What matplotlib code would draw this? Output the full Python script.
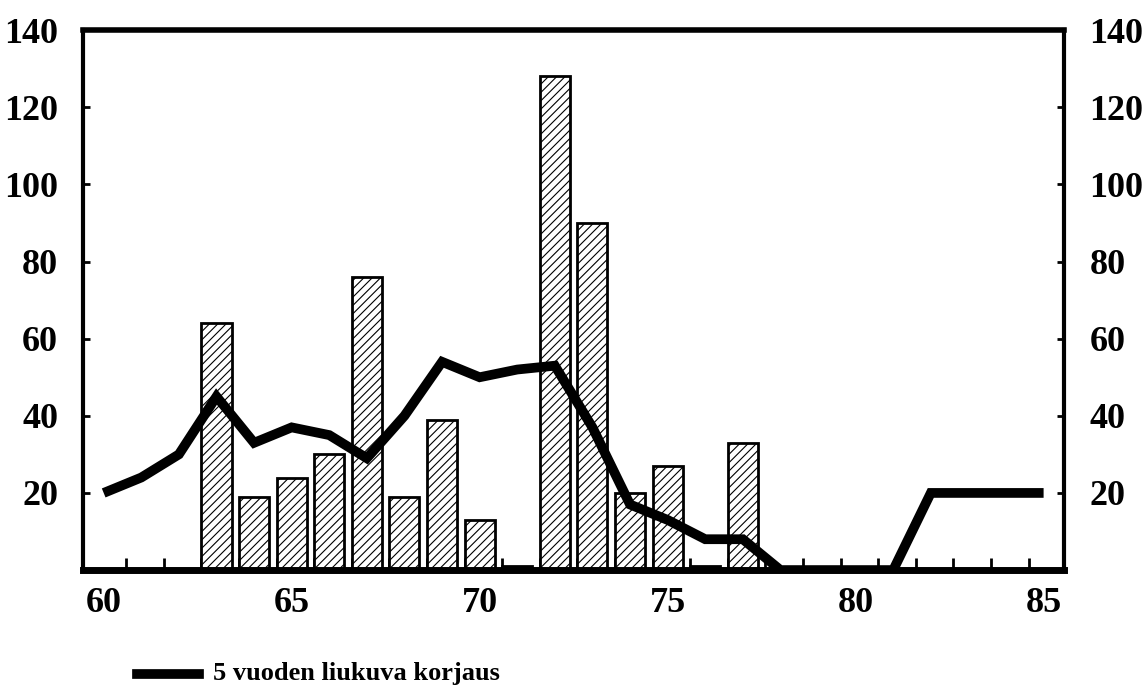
import numpy as np
import matplotlib
matplotlib.use('Agg')
import matplotlib.pyplot as plt
from matplotlib.lines import Line2D

# bars: years and values
bar_years = [63, 64, 65, 66, 67, 68, 69, 70, 71, 72, 73, 74, 75, 76, 77]
bar_values = [64, 19, 24, 30, 76, 19, 39, 13, 1, 128, 90, 20, 27, 1, 33]

# 5 year moving correction line
line_years = list(range(60, 86))
line_values = [20, 24, 30, 45, 33, 37, 35, 29, 40, 54, 50, 52, 53, 37, 17, 13, 8, 8,
               0, 0, 0, 0, 20, 20, 20, 20]

x_labels = [60, 65, 70, 75, 80, 85]
y_labels = [20, 40, 60, 80, 100, 120, 140]
legend_text = '5 vuoden liukuva korjaus'

plt.rcParams['font.family'] = ['Liberation Serif', 'DejaVu Serif']
plt.rcParams['font.weight'] = 'bold'
plt.rcParams['hatch.linewidth'] = 0.8

fig = plt.figure(figsize=(11.45, 6.86), dpi=100)
ax = fig.add_axes([0.0725, 0.169, 0.857, 0.787])

ax.bar(bar_years, bar_values, width=0.8, color='white', edgecolor='black',
       linewidth=2, hatch='////', zorder=2)
ax.plot(line_years, line_values, color='black', linewidth=7,
        solid_joinstyle='miter', solid_capstyle='butt', zorder=3)

ax.set_xlim(59.45, 85.55)
ax.set_ylim(0, 140)

ax.set_xticks(x_labels)
ax.set_xticklabels([str(v) for v in x_labels], fontsize=26, fontweight='bold')
ax.tick_params(axis='x', which='major', length=0, pad=12)
ax.set_xticks([y + 0.6 for y in range(60, 85)], minor=True)
ax.tick_params(axis='x', which='minor', direction='in', length=9, width=2,
               top=False)

ax.set_yticks(y_labels)
ax.set_yticklabels([str(v) for v in y_labels], fontsize=26, fontweight='bold')
ax.tick_params(axis='y', direction='in', length=5, width=2, pad=18,
               left=True, right=True, labelleft=True, labelright=True)

for side, lw in [('bottom', 5), ('top', 4), ('left', 3), ('right', 3)]:
    ax.spines[side].set_linewidth(lw)

# legend at the bottom
fig.add_artist(Line2D([0.12, 0.174], [0.018, 0.018], color='black', linewidth=7,
                      transform=fig.transFigure))
fig.text(0.186, 0.018, legend_text, fontsize=19, fontweight='bold',
         va='center', ha='left')

fig.savefig('out.png', dpi=100)
